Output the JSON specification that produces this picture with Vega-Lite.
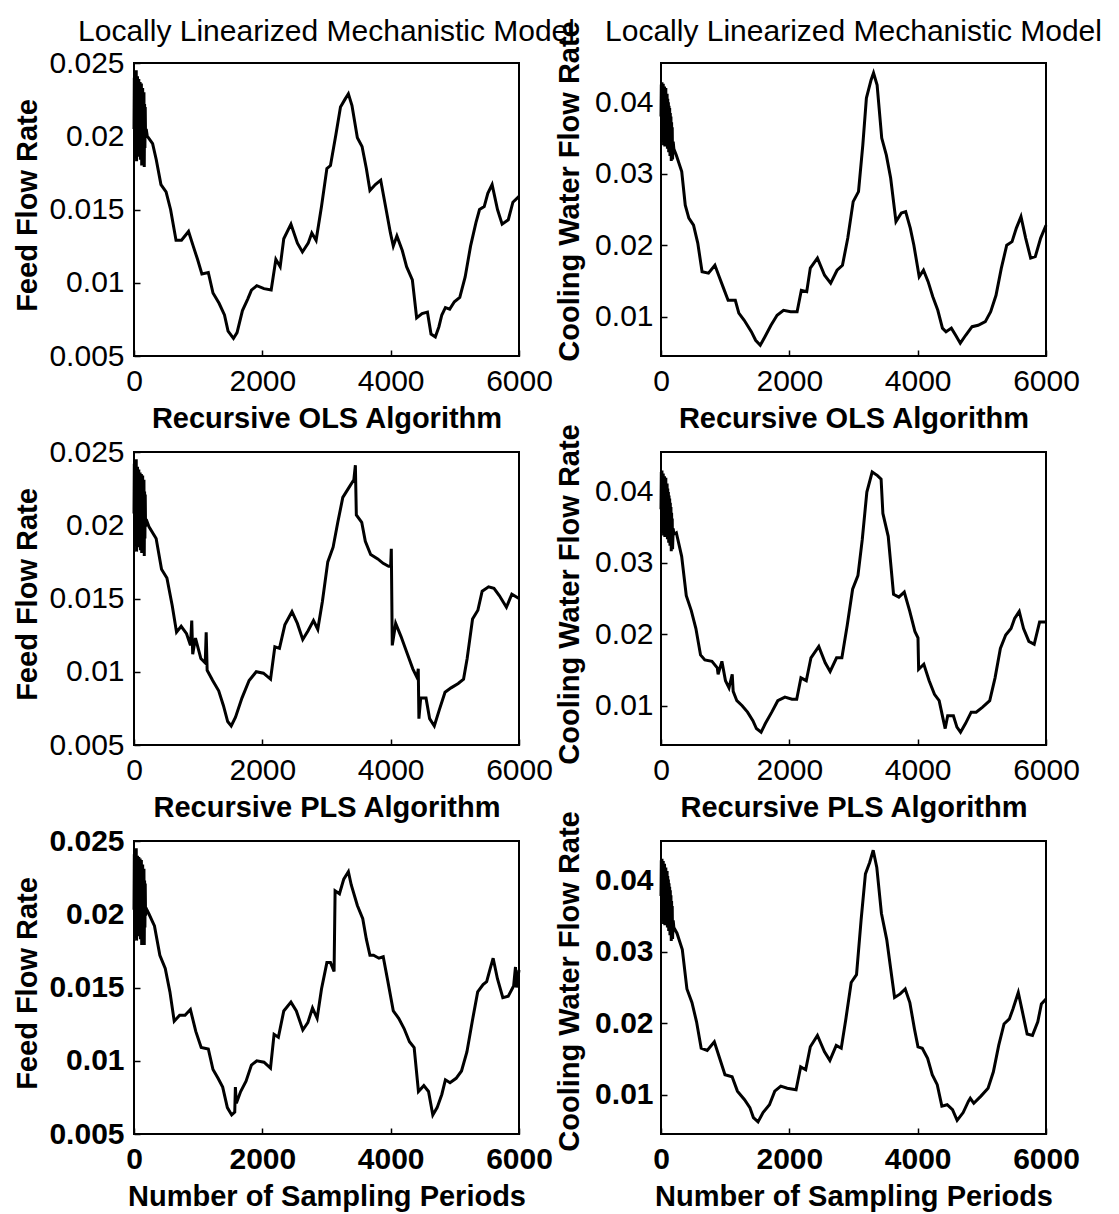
{
"$schema": "https://vega.github.io/schema/vega-lite/v6.json",
"background": "white",
"padding": {"left": 11, "top": 15, "right": 0, "bottom": 0},
"columns": 2,
"bounds": "flush",
"spacing": {"row": 96, "column": 142},
"config": {
 "view": {"stroke": "black", "strokeWidth": 2},
 "axis": {"grid": false, "domain": false, "ticks": true, "tickSize": -6, "tickWidth": 1.5, "tickColor": "black", "labelFont": "Liberation Sans", "labelFontSize": 30, "labelColor": "black", "titleFont": "Liberation Sans", "titleFontSize": 29, "titleFontWeight": "bold", "titleColor": "black", "labelFlush": false, "labelOverlap": false, "titleBaseline": "alphabetic"},
 "title": {"font": "Liberation Sans", "fontSize": 30, "fontWeight": "normal", "color": "black", "frame": "group", "anchor": "middle", "offset": 22, "baseline": "alphabetic"},
 "line": {"color": "black", "strokeWidth": 3, "clip": true}
},
"datasets": {
 "p1": [{"x":0,"y":0.0205},{"x":5,"y":0.024},{"x":10,"y":0.019},{"x":15,"y":0.0243},{"x":20,"y":0.0185},{"x":25,"y":0.0238},{"x":30,"y":0.0192},{"x":35,"y":0.0245},{"x":40,"y":0.0183},{"x":45,"y":0.0236},{"x":50,"y":0.0195},{"x":55,"y":0.0241},{"x":60,"y":0.0188},{"x":65,"y":0.0234},{"x":70,"y":0.0196},{"x":75,"y":0.0239},{"x":80,"y":0.0186},{"x":85,"y":0.0232},{"x":90,"y":0.019},{"x":95,"y":0.0237},{"x":100,"y":0.0184},{"x":105,"y":0.023},{"x":110,"y":0.0193},{"x":115,"y":0.0236},{"x":120,"y":0.018},{"x":125,"y":0.0228},{"x":130,"y":0.0195},{"x":135,"y":0.0233},{"x":140,"y":0.0186},{"x":145,"y":0.0226},{"x":150,"y":0.0197},{"x":155,"y":0.023},{"x":160,"y":0.0179},{"x":165,"y":0.0222},{"x":170,"y":0.0192},{"x":175,"y":0.022},{"x":180,"y":0.02},{"x":190,"y":0.0205},
  {"x":207,"y":0.02},{"x":290,"y":0.0195},{"x":347,"y":0.0184},{"x":420,"y":0.0167},{"x":500,"y":0.0162},{"x":570,"y":0.015},{"x":655,"y":0.0129},{"x":740,"y":0.0129},{"x":850,"y":0.0135},{"x":923,"y":0.0125},{"x":990,"y":0.0116},{"x":1058,"y":0.0106},{"x":1158,"y":0.0107},{"x":1231,"y":0.0093},{"x":1326,"y":0.0086},{"x":1410,"y":0.0078},{"x":1466,"y":0.0067},{"x":1550,"y":0.0062},{"x":1606,"y":0.0066},{"x":1690,"y":0.0081},{"x":1774,"y":0.0089},{"x":1830,"y":0.0095},{"x":1914,"y":0.0098},{"x":2026,"y":0.0096},{"x":2138,"y":0.0095},{"x":2211,"y":0.0116},{"x":2278,"y":0.0111},{"x":2334,"y":0.013},{"x":2446,"y":0.014},{"x":2547,"y":0.0127},{"x":2625,"y":0.0121},{"x":2715,"y":0.0127},{"x":2771,"y":0.0134},{"x":2838,"y":0.0129},{"x":2922,"y":0.0152},{"x":3006,"y":0.0178},{"x":3062,"y":0.018},{"x":3146,"y":0.0201},{"x":3218,"y":0.022},{"x":3285,"y":0.0225},{"x":3341,"y":0.0229},{"x":3397,"y":0.0221},{"x":3481,"y":0.0199},{"x":3554,"y":0.0193},{"x":3621,"y":0.0178},{"x":3677,"y":0.0163},{"x":3761,"y":0.0167},{"x":3845,"y":0.017},{"x":3929,"y":0.015},{"x":3996,"y":0.0134},{"x":4041,"y":0.0125},{"x":4097,"y":0.0132},{"x":4181,"y":0.0122},{"x":4248,"y":0.0111},{"x":4338,"y":0.0102},{"x":4405,"y":0.0076},{"x":4489,"y":0.0079},{"x":4573,"y":0.008},{"x":4629,"y":0.0065},{"x":4696,"y":0.0063},{"x":4752,"y":0.007},{"x":4797,"y":0.0078},{"x":4853,"y":0.0083},{"x":4920,"y":0.0082},{"x":4993,"y":0.0087},{"x":5077,"y":0.009},{"x":5161,"y":0.0104},{"x":5245,"y":0.0125},{"x":5329,"y":0.0141},{"x":5385,"y":0.015},{"x":5458,"y":0.0152},{"x":5514,"y":0.0161},{"x":5581,"y":0.0167},{"x":5665,"y":0.015},{"x":5737,"y":0.014},{"x":5833,"y":0.0143},{"x":5905,"y":0.0155},{"x":6000,"y":0.0159}],
 "p2": [{"x":0,"y":0.038},{"x":5,"y":0.0425},{"x":10,"y":0.035},{"x":15,"y":0.0428},{"x":20,"y":0.0345},{"x":25,"y":0.042},{"x":30,"y":0.0355},{"x":35,"y":0.0426},{"x":40,"y":0.034},{"x":45,"y":0.0418},{"x":50,"y":0.0352},{"x":55,"y":0.0422},{"x":60,"y":0.0338},{"x":65,"y":0.0415},{"x":70,"y":0.035},{"x":75,"y":0.042},{"x":80,"y":0.0342},{"x":85,"y":0.041},{"x":90,"y":0.0348},{"x":95,"y":0.0412},{"x":100,"y":0.0335},{"x":105,"y":0.0405},{"x":110,"y":0.0345},{"x":115,"y":0.04},{"x":120,"y":0.033},{"x":125,"y":0.0395},{"x":130,"y":0.034},{"x":135,"y":0.0392},{"x":140,"y":0.0325},{"x":145,"y":0.0385},{"x":150,"y":0.0335},{"x":155,"y":0.038},{"x":160,"y":0.0318},{"x":165,"y":0.0372},{"x":170,"y":0.033},{"x":175,"y":0.0365},{"x":180,"y":0.032},{"x":190,"y":0.0345},{"x":200,"y":0.0335},
  {"x":239,"y":0.0326},{"x":323,"y":0.0303},{"x":378,"y":0.0256},{"x":434,"y":0.0238},{"x":507,"y":0.0228},{"x":573,"y":0.0203},{"x":640,"y":0.0163},{"x":740,"y":0.0161},{"x":840,"y":0.0172},{"x":907,"y":0.0156},{"x":974,"y":0.014},{"x":1046,"y":0.0123},{"x":1158,"y":0.0123},{"x":1213,"y":0.0105},{"x":1297,"y":0.0095},{"x":1408,"y":0.0079},{"x":1475,"y":0.0067},{"x":1547,"y":0.006},{"x":1620,"y":0.0072},{"x":1714,"y":0.0088},{"x":1809,"y":0.0102},{"x":1909,"y":0.0109},{"x":2021,"y":0.0107},{"x":2121,"y":0.0107},{"x":2187,"y":0.0137},{"x":2271,"y":0.0135},{"x":2327,"y":0.0168},{"x":2438,"y":0.0182},{"x":2549,"y":0.0158},{"x":2644,"y":0.0147},{"x":2744,"y":0.0165},{"x":2828,"y":0.0172},{"x":2911,"y":0.021},{"x":2995,"y":0.0261},{"x":3078,"y":0.0275},{"x":3145,"y":0.034},{"x":3201,"y":0.0406},{"x":3273,"y":0.0431},{"x":3312,"y":0.0441},{"x":3368,"y":0.0424},{"x":3440,"y":0.035},{"x":3512,"y":0.0326},{"x":3579,"y":0.0294},{"x":3662,"y":0.0233},{"x":3746,"y":0.0245},{"x":3813,"y":0.0247},{"x":3885,"y":0.0224},{"x":3941,"y":0.02},{"x":4024,"y":0.0156},{"x":4091,"y":0.0165},{"x":4163,"y":0.0149},{"x":4236,"y":0.0128},{"x":4314,"y":0.0109},{"x":4386,"y":0.0084},{"x":4442,"y":0.0079},{"x":4525,"y":0.0084},{"x":4592,"y":0.0074},{"x":4664,"y":0.0063},{"x":4748,"y":0.0074},{"x":4848,"y":0.0086},{"x":4943,"y":0.0088},{"x":5054,"y":0.0093},{"x":5138,"y":0.0107},{"x":5221,"y":0.013},{"x":5304,"y":0.0168},{"x":5388,"y":0.02},{"x":5471,"y":0.0205},{"x":5538,"y":0.0224},{"x":5610,"y":0.024},{"x":5683,"y":0.021},{"x":5761,"y":0.0182},{"x":5833,"y":0.0184},{"x":5917,"y":0.021},{"x":6000,"y":0.0228}],
 "p3": [{"x":0,"y":0.0208},{"x":5,"y":0.0242},{"x":10,"y":0.0188},{"x":15,"y":0.0244},{"x":20,"y":0.0186},{"x":25,"y":0.0236},{"x":30,"y":0.0194},{"x":35,"y":0.0245},{"x":40,"y":0.0182},{"x":45,"y":0.0238},{"x":50,"y":0.0193},{"x":55,"y":0.024},{"x":60,"y":0.0187},{"x":65,"y":0.0235},{"x":70,"y":0.0197},{"x":75,"y":0.0238},{"x":80,"y":0.0185},{"x":85,"y":0.0233},{"x":90,"y":0.0191},{"x":95,"y":0.0236},{"x":100,"y":0.0183},{"x":105,"y":0.0231},{"x":110,"y":0.0194},{"x":115,"y":0.0235},{"x":120,"y":0.0181},{"x":125,"y":0.0229},{"x":130,"y":0.0194},{"x":135,"y":0.0234},{"x":140,"y":0.0185},{"x":145,"y":0.0227},{"x":150,"y":0.0196},{"x":155,"y":0.0231},{"x":160,"y":0.0179},{"x":165,"y":0.0223},{"x":170,"y":0.0191},{"x":175,"y":0.0221},{"x":180,"y":0.0199},{"x":190,"y":0.0204},
  {"x":234,"y":0.0199},{"x":345,"y":0.0191},{"x":429,"y":0.017},{"x":513,"y":0.0164},{"x":596,"y":0.0145},{"x":663,"y":0.0127},{"x":735,"y":0.0131},{"x":819,"y":0.0126},{"x":880,"y":0.0118},{"x":900,"y":0.0135},{"x":915,"y":0.0112},{"x":958,"y":0.0123},{"x":1042,"y":0.0109},{"x":1110,"y":0.0106},{"x":1125,"y":0.0127},{"x":1140,"y":0.0101},{"x":1226,"y":0.0094},{"x":1320,"y":0.0087},{"x":1393,"y":0.0077},{"x":1460,"y":0.0066},{"x":1515,"y":0.0063},{"x":1582,"y":0.0069},{"x":1682,"y":0.0082},{"x":1794,"y":0.0094},{"x":1905,"y":0.01},{"x":2017,"y":0.0099},{"x":2128,"y":0.0095},{"x":2195,"y":0.0117},{"x":2267,"y":0.0116},{"x":2351,"y":0.0132},{"x":2462,"y":0.0141},{"x":2546,"y":0.0133},{"x":2630,"y":0.0122},{"x":2713,"y":0.0128},{"x":2797,"y":0.0135},{"x":2864,"y":0.0129},{"x":2936,"y":0.0148},{"x":3020,"y":0.0175},{"x":3103,"y":0.0185},{"x":3176,"y":0.0202},{"x":3254,"y":0.0219},{"x":3354,"y":0.0226},{"x":3426,"y":0.0231},{"x":3450,"y":0.0241},{"x":3465,"y":0.0207},{"x":3549,"y":0.0202},{"x":3605,"y":0.0189},{"x":3688,"y":0.018},{"x":3799,"y":0.0177},{"x":3883,"y":0.0174},{"x":3967,"y":0.0172},{"x":4000,"y":0.0172},{"x":4010,"y":0.0184},{"x":4025,"y":0.0118},{"x":4078,"y":0.0133},{"x":4162,"y":0.0124},{"x":4245,"y":0.0114},{"x":4345,"y":0.0102},{"x":4412,"y":0.0096},{"x":4430,"y":0.0102},{"x":4440,"y":0.0068},{"x":4468,"y":0.0082},{"x":4551,"y":0.0082},{"x":4607,"y":0.0068},{"x":4680,"y":0.0063},{"x":4758,"y":0.0074},{"x":4847,"y":0.0086},{"x":4941,"y":0.0089},{"x":5053,"y":0.0092},{"x":5136,"y":0.0095},{"x":5192,"y":0.0109},{"x":5276,"y":0.0136},{"x":5359,"y":0.0142},{"x":5426,"y":0.0155},{"x":5526,"y":0.0158},{"x":5610,"y":0.0157},{"x":5693,"y":0.0152},{"x":5804,"y":0.0144},{"x":5888,"y":0.0153},{"x":6000,"y":0.015}],
 "p4": [{"x":0,"y":0.0375},{"x":5,"y":0.0427},{"x":10,"y":0.0348},{"x":15,"y":0.0429},{"x":20,"y":0.0342},{"x":25,"y":0.0421},{"x":30,"y":0.0356},{"x":35,"y":0.0425},{"x":40,"y":0.0338},{"x":45,"y":0.0417},{"x":50,"y":0.035},{"x":55,"y":0.0421},{"x":60,"y":0.0336},{"x":65,"y":0.0414},{"x":70,"y":0.0349},{"x":75,"y":0.0419},{"x":80,"y":0.034},{"x":85,"y":0.0409},{"x":90,"y":0.0347},{"x":95,"y":0.0411},{"x":100,"y":0.0333},{"x":105,"y":0.0404},{"x":110,"y":0.0344},{"x":115,"y":0.0399},{"x":120,"y":0.0328},{"x":125,"y":0.0394},{"x":130,"y":0.0339},{"x":135,"y":0.039},{"x":140,"y":0.0324},{"x":145,"y":0.0384},{"x":150,"y":0.0334},{"x":155,"y":0.0378},{"x":160,"y":0.0316},{"x":165,"y":0.037},{"x":170,"y":0.0329},{"x":175,"y":0.0362},{"x":180,"y":0.0319},{"x":190,"y":0.0348},{"x":200,"y":0.034},
  {"x":239,"y":0.0342},{"x":322,"y":0.0309},{"x":394,"y":0.0254},{"x":472,"y":0.0233},{"x":544,"y":0.0208},{"x":616,"y":0.0171},{"x":683,"y":0.0164},{"x":794,"y":0.0162},{"x":877,"y":0.0153},{"x":890,"y":0.0144},{"x":949,"y":0.0162},{"x":1005,"y":0.0135},{"x":1060,"y":0.0125},{"x":1110,"y":0.0144},{"x":1125,"y":0.012},{"x":1182,"y":0.0107},{"x":1265,"y":0.01},{"x":1349,"y":0.0091},{"x":1432,"y":0.0079},{"x":1487,"y":0.0068},{"x":1560,"y":0.0063},{"x":1626,"y":0.0075},{"x":1726,"y":0.0091},{"x":1820,"y":0.0107},{"x":1931,"y":0.0112},{"x":2042,"y":0.0109},{"x":2115,"y":0.0109},{"x":2181,"y":0.0139},{"x":2264,"y":0.0135},{"x":2337,"y":0.0167},{"x":2459,"y":0.0183},{"x":2559,"y":0.016},{"x":2636,"y":0.0148},{"x":2736,"y":0.0167},{"x":2819,"y":0.0167},{"x":2903,"y":0.0213},{"x":2986,"y":0.0263},{"x":3069,"y":0.0282},{"x":3136,"y":0.0332},{"x":3208,"y":0.0399},{"x":3291,"y":0.0427},{"x":3374,"y":0.0422},{"x":3430,"y":0.0417},{"x":3458,"y":0.0369},{"x":3541,"y":0.0337},{"x":3624,"y":0.0256},{"x":3707,"y":0.0252},{"x":3791,"y":0.0259},{"x":3874,"y":0.0233},{"x":3957,"y":0.0204},{"x":4005,"y":0.0195},{"x":4015,"y":0.0151},{"x":4096,"y":0.0158},{"x":4179,"y":0.0135},{"x":4262,"y":0.0116},{"x":4335,"y":0.0107},{"x":4390,"y":0.0084},{"x":4429,"y":0.0068},{"x":4468,"y":0.0086},{"x":4557,"y":0.0086},{"x":4612,"y":0.007},{"x":4668,"y":0.0063},{"x":4745,"y":0.0075},{"x":4834,"y":0.0091},{"x":4912,"y":0.0091},{"x":5012,"y":0.0098},{"x":5123,"y":0.0107},{"x":5206,"y":0.0139},{"x":5289,"y":0.018},{"x":5372,"y":0.0199},{"x":5455,"y":0.0208},{"x":5511,"y":0.0222},{"x":5583,"y":0.0232},{"x":5650,"y":0.0208},{"x":5733,"y":0.019},{"x":5816,"y":0.0186},{"x":5900,"y":0.0217},{"x":6000,"y":0.0217}],
 "p5": [{"x":0,"y":0.0203},{"x":5,"y":0.0241},{"x":10,"y":0.0189},{"x":15,"y":0.0244},{"x":20,"y":0.0184},{"x":25,"y":0.0237},{"x":30,"y":0.0193},{"x":35,"y":0.0245},{"x":40,"y":0.0182},{"x":45,"y":0.0237},{"x":50,"y":0.0194},{"x":55,"y":0.024},{"x":60,"y":0.0187},{"x":65,"y":0.0235},{"x":70,"y":0.0195},{"x":75,"y":0.0239},{"x":80,"y":0.0185},{"x":85,"y":0.0233},{"x":90,"y":0.0191},{"x":95,"y":0.0238},{"x":100,"y":0.0183},{"x":105,"y":0.0231},{"x":110,"y":0.0192},{"x":115,"y":0.0237},{"x":120,"y":0.0179},{"x":125,"y":0.0229},{"x":130,"y":0.0194},{"x":135,"y":0.0234},{"x":140,"y":0.0185},{"x":145,"y":0.0227},{"x":150,"y":0.0196},{"x":155,"y":0.0231},{"x":160,"y":0.0179},{"x":165,"y":0.0223},{"x":170,"y":0.0191},{"x":175,"y":0.0221},{"x":180,"y":0.0199},{"x":190,"y":0.0204},
  {"x":235,"y":0.02},{"x":319,"y":0.0192},{"x":403,"y":0.0172},{"x":487,"y":0.0163},{"x":560,"y":0.0147},{"x":627,"y":0.0127},{"x":711,"y":0.0131},{"x":795,"y":0.0131},{"x":879,"y":0.0135},{"x":963,"y":0.012},{"x":1047,"y":0.0109},{"x":1158,"y":0.0108},{"x":1231,"y":0.0094},{"x":1310,"y":0.0088},{"x":1382,"y":0.0082},{"x":1455,"y":0.0068},{"x":1522,"y":0.0063},{"x":1570,"y":0.0065},{"x":1580,"y":0.0082},{"x":1595,"y":0.0071},{"x":1662,"y":0.0079},{"x":1746,"y":0.0086},{"x":1830,"y":0.0097},{"x":1914,"y":0.01},{"x":2026,"y":0.0099},{"x":2127,"y":0.0095},{"x":2183,"y":0.0118},{"x":2250,"y":0.0116},{"x":2334,"y":0.0134},{"x":2446,"y":0.014},{"x":2530,"y":0.0134},{"x":2631,"y":0.0121},{"x":2709,"y":0.0126},{"x":2782,"y":0.0136},{"x":2854,"y":0.0129},{"x":2922,"y":0.0149},{"x":3006,"y":0.0167},{"x":3062,"y":0.0167},{"x":3118,"y":0.0161},{"x":3134,"y":0.0216},{"x":3202,"y":0.0214},{"x":3269,"y":0.0224},{"x":3341,"y":0.0229},{"x":3386,"y":0.022},{"x":3481,"y":0.0206},{"x":3565,"y":0.0197},{"x":3621,"y":0.0183},{"x":3677,"y":0.0172},{"x":3733,"y":0.0172},{"x":3817,"y":0.017},{"x":3884,"y":0.0171},{"x":3957,"y":0.0154},{"x":4041,"y":0.0134},{"x":4125,"y":0.0129},{"x":4209,"y":0.0122},{"x":4293,"y":0.0113},{"x":4366,"y":0.0109},{"x":4433,"y":0.0079},{"x":4517,"y":0.0083},{"x":4590,"y":0.0079},{"x":4657,"y":0.0063},{"x":4724,"y":0.0068},{"x":4797,"y":0.0077},{"x":4853,"y":0.0087},{"x":4925,"y":0.0085},{"x":5020,"y":0.0088},{"x":5104,"y":0.0093},{"x":5188,"y":0.0106},{"x":5272,"y":0.0127},{"x":5356,"y":0.0147},{"x":5440,"y":0.0152},{"x":5496,"y":0.0154},{"x":5552,"y":0.0163},{"x":5597,"y":0.017},{"x":5664,"y":0.0156},{"x":5748,"y":0.0143},{"x":5832,"y":0.0144},{"x":5916,"y":0.0151},{"x":5945,"y":0.0164},{"x":5960,"y":0.015},{"x":6000,"y":0.0162}],
 "p6": [{"x":0,"y":0.0378},{"x":5,"y":0.0428},{"x":10,"y":0.0349},{"x":15,"y":0.043},{"x":20,"y":0.0343},{"x":25,"y":0.0422},{"x":30,"y":0.0354},{"x":35,"y":0.0427},{"x":40,"y":0.0339},{"x":45,"y":0.0419},{"x":50,"y":0.0351},{"x":55,"y":0.0423},{"x":60,"y":0.0337},{"x":65,"y":0.0416},{"x":70,"y":0.0349},{"x":75,"y":0.0418},{"x":80,"y":0.0341},{"x":85,"y":0.0411},{"x":90,"y":0.0346},{"x":95,"y":0.0413},{"x":100,"y":0.0334},{"x":105,"y":0.0406},{"x":110,"y":0.0343},{"x":115,"y":0.0401},{"x":120,"y":0.0329},{"x":125,"y":0.0396},{"x":130,"y":0.0338},{"x":135,"y":0.0391},{"x":140,"y":0.0323},{"x":145,"y":0.0386},{"x":150,"y":0.0333},{"x":155,"y":0.0379},{"x":160,"y":0.0315},{"x":165,"y":0.0371},{"x":170,"y":0.0328},{"x":175,"y":0.0364},{"x":180,"y":0.0318},{"x":190,"y":0.0344},{"x":200,"y":0.0334},
  {"x":249,"y":0.0326},{"x":332,"y":0.0303},{"x":404,"y":0.0248},{"x":482,"y":0.0229},{"x":554,"y":0.0202},{"x":626,"y":0.0165},{"x":720,"y":0.0162},{"x":831,"y":0.0174},{"x":914,"y":0.0151},{"x":997,"y":0.0128},{"x":1108,"y":0.0125},{"x":1191,"y":0.0105},{"x":1302,"y":0.0093},{"x":1385,"y":0.0082},{"x":1440,"y":0.0068},{"x":1512,"y":0.0062},{"x":1590,"y":0.0075},{"x":1690,"y":0.0086},{"x":1773,"y":0.0105},{"x":1867,"y":0.0112},{"x":1967,"y":0.0109},{"x":2105,"y":0.0107},{"x":2177,"y":0.0139},{"x":2255,"y":0.0135},{"x":2327,"y":0.0167},{"x":2438,"y":0.0183},{"x":2548,"y":0.016},{"x":2632,"y":0.0148},{"x":2731,"y":0.0169},{"x":2809,"y":0.0165},{"x":2881,"y":0.0206},{"x":2964,"y":0.0257},{"x":3047,"y":0.0268},{"x":3119,"y":0.0345},{"x":3186,"y":0.0409},{"x":3252,"y":0.0425},{"x":3307,"y":0.0442},{"x":3363,"y":0.0418},{"x":3435,"y":0.0354},{"x":3518,"y":0.0317},{"x":3601,"y":0.0262},{"x":3640,"y":0.0236},{"x":3728,"y":0.0241},{"x":3806,"y":0.0248},{"x":3878,"y":0.0229},{"x":3950,"y":0.0192},{"x":4005,"y":0.0167},{"x":4072,"y":0.0165},{"x":4155,"y":0.0151},{"x":4227,"y":0.0128},{"x":4305,"y":0.0114},{"x":4377,"y":0.0084},{"x":4460,"y":0.0086},{"x":4543,"y":0.0079},{"x":4615,"y":0.0064},{"x":4709,"y":0.0075},{"x":4792,"y":0.0091},{"x":4820,"y":0.0095},{"x":4875,"y":0.0088},{"x":4986,"y":0.0098},{"x":5097,"y":0.0109},{"x":5180,"y":0.0132},{"x":5263,"y":0.0169},{"x":5346,"y":0.0199},{"x":5429,"y":0.0206},{"x":5485,"y":0.022},{"x":5568,"y":0.0243},{"x":5623,"y":0.022},{"x":5706,"y":0.0185},{"x":5789,"y":0.0183},{"x":5872,"y":0.0202},{"x":5928,"y":0.0227},{"x":6000,"y":0.0234}]
},
"concat": [
 {"width": 385, "height": 293, "title": {"text": "Locally Linearized Mechanistic Model", "dy": 21}, "data": {"name": "p1"}, "mark": {"type": "line"},
  "encoding": {
   "x": {"field": "x", "type": "quantitative", "scale": {"domain": [0, 6000], "nice": false}, "axis": {"values": [0, 2000, 4000, 6000], "format": "d", "title": "Recursive OLS Algorithm", "labelPadding": 16, "titleY": 71}},
   "y": {"field": "y", "type": "quantitative", "scale": {"domain": [0.005, 0.025], "nice": false, "zero": false}, "axis": {"values": [0.005, 0.01, 0.015, 0.02, 0.025], "format": "~g", "title": "Feed Flow Rate", "labelPadding": 16, "titleX": -98, "titleY": 142}}}},
 {"width": 385, "height": 293, "title": {"text": "Locally Linearized Mechanistic Model", "dy": 48}, "data": {"name": "p2"}, "mark": {"type": "line"},
  "encoding": {
   "x": {"field": "x", "type": "quantitative", "scale": {"domain": [0, 6000], "nice": false}, "axis": {"values": [0, 2000, 4000, 6000], "format": "d", "title": "Recursive OLS Algorithm", "labelPadding": 16, "titleY": 71}},
   "y": {"field": "y", "type": "quantitative", "scale": {"domain": [0.0045, 0.0455], "nice": false, "zero": false}, "axis": {"values": [0.01, 0.02, 0.03, 0.04], "format": "~g", "title": "Cooling Water Flow Rate", "labelPadding": 14, "titleX": -83, "titleY": 128}}}},
 {"width": 385, "height": 293, "data": {"name": "p3"}, "mark": {"type": "line"},
  "encoding": {
   "x": {"field": "x", "type": "quantitative", "scale": {"domain": [0, 6000], "nice": false}, "axis": {"values": [0, 2000, 4000, 6000], "format": "d", "title": "Recursive PLS Algorithm", "labelPadding": 16, "titleY": 71}},
   "y": {"field": "y", "type": "quantitative", "scale": {"domain": [0.005, 0.025], "nice": false, "zero": false}, "axis": {"values": [0.005, 0.01, 0.015, 0.02, 0.025], "format": "~g", "title": "Feed Flow Rate", "labelPadding": 16, "titleX": -98, "titleY": 142}}}},
 {"width": 385, "height": 293, "data": {"name": "p4"}, "mark": {"type": "line"},
  "encoding": {
   "x": {"field": "x", "type": "quantitative", "scale": {"domain": [0, 6000], "nice": false}, "axis": {"values": [0, 2000, 4000, 6000], "format": "d", "title": "Recursive PLS Algorithm", "labelPadding": 16, "titleY": 71}},
   "y": {"field": "y", "type": "quantitative", "scale": {"domain": [0.0045, 0.0455], "nice": false, "zero": false}, "axis": {"values": [0.01, 0.02, 0.03, 0.04], "format": "~g", "title": "Cooling Water Flow Rate", "labelPadding": 14, "titleX": -83, "titleY": 142}}}},
 {"width": 385, "height": 293, "data": {"name": "p5"}, "mark": {"type": "line"},
  "encoding": {
   "x": {"field": "x", "type": "quantitative", "scale": {"domain": [0, 6000], "nice": false}, "axis": {"values": [0, 2000, 4000, 6000], "format": "d", "title": "Number of Sampling Periods", "labelPadding": 16, "titleY": 71, "labelFontWeight": "bold"}},
   "y": {"field": "y", "type": "quantitative", "scale": {"domain": [0.005, 0.025], "nice": false, "zero": false}, "axis": {"values": [0.005, 0.01, 0.015, 0.02, 0.025], "format": "~g", "title": "Feed Flow Rate", "labelPadding": 16, "titleX": -98, "titleY": 142, "labelFontWeight": "bold"}}}},
 {"width": 385, "height": 293, "data": {"name": "p6"}, "mark": {"type": "line"},
  "encoding": {
   "x": {"field": "x", "type": "quantitative", "scale": {"domain": [0, 6000], "nice": false}, "axis": {"values": [0, 2000, 4000, 6000], "format": "d", "title": "Number of Sampling Periods", "labelPadding": 16, "titleY": 71, "labelFontWeight": "bold"}},
   "y": {"field": "y", "type": "quantitative", "scale": {"domain": [0.0045, 0.0455], "nice": false, "zero": false}, "axis": {"values": [0.01, 0.02, 0.03, 0.04], "format": "~g", "title": "Cooling Water Flow Rate", "labelPadding": 14, "titleX": -83, "titleY": 140, "labelFontWeight": "bold"}}}}
]
}
